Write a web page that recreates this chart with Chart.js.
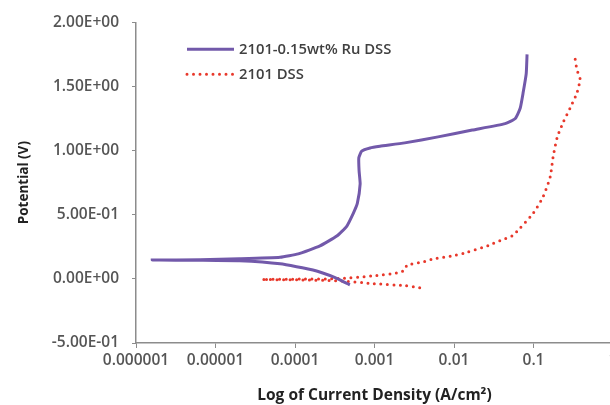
<!DOCTYPE html>
<html>
<head>
<meta charset="utf-8">
<script src="https://cdn.jsdelivr.net/npm/chart.js@4"></script>
<style>
  html, body { margin: 0; padding: 0; background: #ffffff; overflow: hidden; width: 610px; height: 405px; }
  canvas { display: block; }
</style>
</head>
<body>
<canvas id="polChart" width="640" height="405"></canvas>
<script>
// x tick labels (log scale, A/cm²)
const xTickLabels = ['0.000001', '0.00001', '0.0001', '0.001', '0.01', '0.1', '1'];
// y tick values (V)
const yTickValues = [-0.5, 0, 0.5, 1.0, 1.5, 2.0];

const seriesLabels = ['2101-0.15wt% Ru DSS', '2101 DSS'];

// 2101-0.15wt% Ru DSS — cathodic end -> Ecorr tip -> anodic branch
const ruCurrent = [
  4.9e-4, 4.5e-4, 3.2e-4, 1.68e-4, 6.5e-5, 2.0e-5, 6.4e-6, 1.6e-6,
  6.4e-6, 2.0e-5, 6.5e-5, 1.1e-4, 2.06e-4, 3.35e-4, 4.47e-4, 5.41e-4, 6.08e-4, 6.6e-4,
  6.4e-4, 6.35e-4, 6.9e-4, 8.8e-4, 1.17e-3, 2.4e-3, 6.3e-3, 1.7e-2, 4.4e-2, 5.9e-2,
  6.8e-2, 7.4e-2, 8.1e-2, 8.3e-2
];
const ruPotential = [
  -0.046, -0.036, 0.01, 0.069, 0.117, 0.141, 0.145, 0.147,
  0.149, 0.156, 0.168, 0.195, 0.257, 0.334, 0.41, 0.511, 0.588, 0.74,
  0.842, 0.944, 0.995, 1.02, 1.033, 1.06, 1.107, 1.16, 1.21, 1.25,
  1.33, 1.45, 1.60, 1.75
];

// 2101 DSS — cathodic end -> Ecorr tip -> anodic branch
const dssCurrent = [
  3.7e-3, 2.4e-3, 9.3e-4, 3.5e-4, 1.15e-4, 3.85e-5,
  1.15e-4, 3.5e-4, 9.3e-4, 2.0e-3, 2.4e-3, 2.57e-3, 3.95e-3, 5.5e-3, 1.03e-2, 1.45e-2,
  2.7e-2, 3.8e-2, 5.4e-2, 6.8e-2, 9.9e-2, 0.132, 0.162, 0.176, 0.198, 0.236, 0.288,
  0.352, 0.385, 0.352, 0.333
];
const dssPotential = [
  -0.069, -0.053, -0.036, -0.015, -0.008, -0.005,
  -0.002, 0.002, 0.023, 0.048, 0.069, 0.107, 0.13, 0.155, 0.183, 0.206,
  0.26, 0.298, 0.336, 0.397, 0.511, 0.641, 0.794, 0.947, 1.10, 1.22, 1.33,
  1.45, 1.56, 1.63, 1.72
];

const toPoints = (xs, ys) => xs.map((x, i) => ({ x, y: ys[i] }));

function formatSci(v) {
  if (v === 0) return '0.00E+00';
  const exp = Math.floor(Math.log10(Math.abs(v)) + 1e-9);
  const mant = v / Math.pow(10, exp);
  const sign = exp < 0 ? '-' : '+';
  return mant.toFixed(2) + 'E' + sign + String(Math.abs(exp)).padStart(2, '0');
}

const AXIS_GREY = '#8c8c8c';
const TEXT_GREY = '#555555';
const FONT = '"Open Sans", "Liberation Sans", sans-serif';

// legend drawn inside the plot area
const innerLegend = {
  id: 'innerLegend',
  afterDraw(chart) {
    const { ctx, chartArea } = chart;
    const x0 = chartArea.left + 51;
    const rows = [chartArea.top + 27, chartArea.top + 52];
    ctx.save();
    chart.data.datasets.forEach((ds, i) => {
      const y = rows[i];
      ctx.beginPath();
      ctx.strokeStyle = ds.borderColor;
      ctx.lineWidth = ds.borderWidth;
      ctx.lineCap = ds.borderCapStyle || 'butt';
      ctx.setLineDash(ds.borderDash || []);
      ctx.moveTo(x0, y);
      ctx.lineTo(x0 + 47, y);
      ctx.stroke();
      ctx.setLineDash([]);
      ctx.fillStyle = '#404040';
      ctx.font = '600 14.8px ' + FONT;
      ctx.textBaseline = 'middle';
      ctx.fillText(ds.label, x0 + 52, y);
    });
    ctx.restore();
  }
};

new Chart(document.getElementById('polChart'), {
  type: 'scatter',
  data: {
    datasets: [
      {
        label:        seriesLabels[0],
        data:         toPoints(ruCurrent, ruPotential),
        showLine:     true,
        borderColor:  '#7259aa',
        borderWidth:  3,
        pointRadius:  0,
        tension:      0.15,
      },
      {
        label:          seriesLabels[1],
        data:           toPoints(dssCurrent, dssPotential),
        showLine:       true,
        borderColor:    '#e8382b',
        borderWidth:    3,
        borderDash:     [0, 6.5],
        borderCapStyle: 'round',
        pointRadius:    0,
        tension:        0.2,
      },
    ],
  },
  options: {
    responsive: false,
    animation:  false,
    layout: { padding: { left: 16, right: 27, top: 16, bottom: 0 } },
    plugins: {
      legend:  { display: false },
      tooltip: { enabled: false },
    },
    scales: {
      x: {
        type: 'logarithmic',
        min:  1e-6,
        max:  1,
        afterBuildTicks: (scale) => {
          scale.ticks = xTickLabels.map((t) => ({ value: parseFloat(t) }));
        },
        afterFit: (scale) => { scale.height = 62; },
        ticks: {
          color:       TEXT_GREY,
          font:        { family: FONT, size: 15.5, weight: '600' },
          padding:     3,
          maxRotation: 0,
          autoSkip:    false,
          callback:    (v) => xTickLabels.find((t) => parseFloat(t) === v) || '',
        },
        grid:   { drawOnChartArea: false, color: AXIS_GREY, tickLength: 5 },
        border: { color: AXIS_GREY, width: 1.5 },
        title: {
          display: true,
          text:    'Log of Current Density (A/cm\u00B2)',
          color:   '#222222',
          font:    { family: FONT, size: 15.5, weight: 'bold' },
          padding: { top: 0, bottom: 0 },
        },
      },
      y: {
        type: 'linear',
        min:  -0.5,
        max:  2.0,
        afterBuildTicks: (scale) => {
          scale.ticks = yTickValues.map((v) => ({ value: v }));
        },
        afterFit: (scale) => { scale.width = 120; },
        ticks: {
          color:    TEXT_GREY,
          font:     { family: FONT, size: 15.5, weight: '600' },
          padding:  13,
          callback: (v) => formatSci(v),
        },
        grid:   { drawOnChartArea: false, color: AXIS_GREY, tickLength: 4 },
        border: { color: AXIS_GREY, width: 1.5 },
        title: {
          display: true,
          text:    'Potential (V)',
          color:   '#222222',
          font:    { family: FONT, size: 13.5, weight: 'bold' },
          padding: { top: 0, bottom: 0 },
        },
      },
    },
  },
  plugins: [innerLegend],
});
</script>
</body>
</html>
